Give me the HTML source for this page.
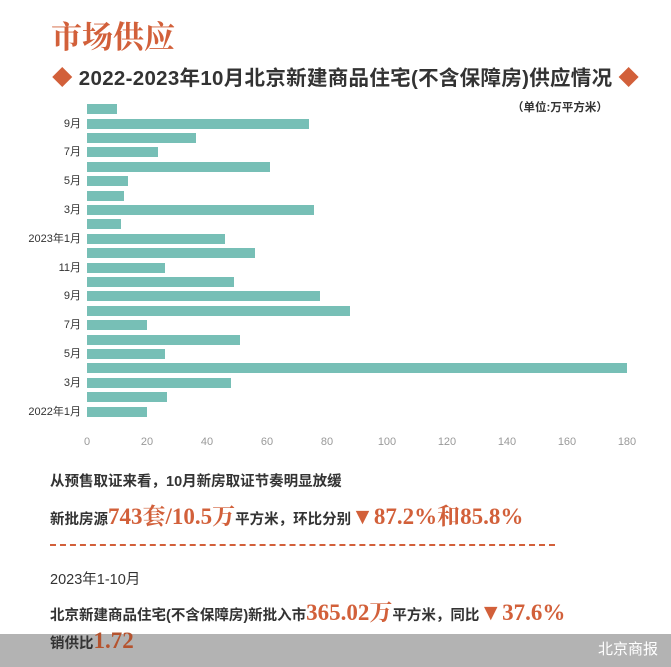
<!DOCTYPE html>
<html><head><meta charset="utf-8"><style>
body{margin:0;width:671px;height:667px;overflow:hidden;background:#fff;position:relative;font-family:"Liberation Sans","Noto Sans CJK SC",sans-serif;}
.a{position:absolute;white-space:nowrap;}
.bar{position:absolute;left:87px;height:10px;background:#77bfb6;}
.lab{position:absolute;right:590px;font-size:11px;color:#333;line-height:11px;}
.tk{position:absolute;top:436px;font-size:11px;color:#999;width:30px;text-align:center;margin-left:-15px;}
.o{color:#d2603a;font-family:"Liberation Serif","Noto Serif CJK SC",serif;font-weight:bold;font-size:23px;}
.t{font-size:14.5px;color:#333;font-weight:bold;}
</style></head><body>
<div class="a" style="left:51px;top:12px;font-size:31px;color:#d2603a;font-family:'Noto Serif CJK SC',serif;font-weight:bold;">市场供应</div>
<div class="a" style="left:52px;top:61px;font-size:20.5px;font-weight:bold;color:#333;letter-spacing:0.3px;"><span style="color:#d2603a">◆</span> 2022-2023年10月北京新建商品住宅(不含保障房)供应情况 <span style="color:#d2603a">◆</span></div>
<div class="a" style="left:512px;top:99px;font-size:11.5px;font-weight:bold;color:#333;">（单位:万平方米）</div>
<div id="bars"></div>
<script>
var v=[20,26.7,48,180,26,51,20,87.7,77.7,49,26,56,46,11.3,75.7,12.3,13.7,61,23.7,36.3,74,10];
var labs={0:"2022年1月",2:"3月",4:"5月",6:"7月",8:"9月",10:"11月",12:"2023年1月",14:"3月",16:"5月",18:"7月",20:"9月"};
var h="";
for(var i=0;i<22;i++){var y=406.5-i*14.4;
h+='<div class="bar" style="top:'+y+'px;width:'+(v[i]*3)+'px"></div>';
if(labs[i]!==undefined)h+='<div class="lab" style="top:'+(y)+'px">'+labs[i]+'</div>';}
for(var t=0;t<=180;t+=20)h+='<div class="tk" style="left:'+(87+t*3)+'px">'+t+'</div>';
document.getElementById("bars").innerHTML=h;
</script>
<div class="a t" style="left:50px;top:470px;">从预售取证来看，10月新房取证节奏明显放缓</div>
<div class="a t" style="left:50px;top:498px;">新批房源<span class="o">743套/10.5万</span>平方米，环比分别<span class="o">▼87.2%和85.8%</span></div>
<div class="a" style="left:50px;top:544px;width:505px;border-top:2px dashed #d2603a;"></div>
<div class="a" style="left:50px;top:568px;font-size:14.5px;color:#333;">2023年1-10月</div>
<div class="a" style="left:0;top:634px;width:671px;height:33px;background:#b3b3b3;"></div>
<div class="a t" style="left:50px;top:594px;">北京新建商品住宅(不含保障房)新批入市<span class="o">365.02万</span>平方米，同比<span class="o">▼37.6%</span></div>
<div class="a t" style="left:50px;top:628px;">销供比<span class="o" style="color:#b5532e">1.72</span></div>
<div class="a" style="left:598px;top:638px;font-size:15px;color:#fff;">北京商报</div>
</body></html>
